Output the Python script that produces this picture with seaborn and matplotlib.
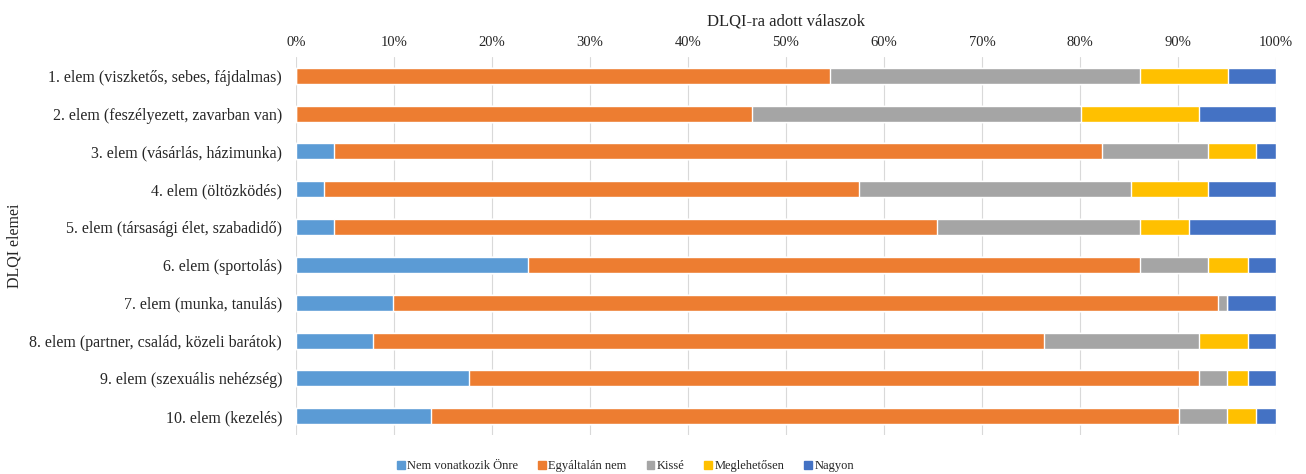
import numpy as np
import pandas as pd
import matplotlib
matplotlib.use('Agg')
import matplotlib.pyplot as plt
import matplotlib.patches as mpatches
import seaborn as sns

# Adatok (százalék)
elemek = ['1. elem (viszketős, sebes, fájdalmas)',
          '2. elem (feszélyezett, zavarban van)',
          '3. elem (vásárlás, házimunka)',
          '4. elem (öltözködés)',
          '5. elem (társasági élet, szabadidő)',
          '6. elem (sportolás)',
          '7. elem (munka, tanulás)',
          '8. elem (partner, család, közeli barátok)',
          '9. elem (szexuális nehézség)',
          '10. elem (kezelés)']
valaszok = ['Nem vonatkozik Önre', 'Egyáltalán nem', 'Kissé', 'Meglehetősen', 'Nagyon']
nem_vonatkozik = [0.0, 0.0, 3.9, 2.9, 3.9, 23.7, 9.9, 7.9, 17.7, 13.8]
egyaltalan_nem = [54.5, 46.5, 78.3, 54.6, 61.5, 62.4, 84.2, 68.4, 74.4, 76.3]
kisse = [31.6, 33.6, 10.9, 27.7, 20.7, 7.0, 0.9, 15.8, 2.9, 4.9]
meglehetosen = [9.0, 12.0, 4.9, 7.9, 5.0, 4.0, 0.0, 5.0, 2.1, 3.0]
nagyon = [4.9, 7.9, 2.0, 6.9, 8.9, 2.9, 5.0, 2.9, 2.9, 2.0]
szinek = ['#5B9BD5', '#ED7D31', '#A5A5A5', '#FFC000', '#4472C4']

df = pd.DataFrame({'elem': elemek,
                   valaszok[0]: nem_vonatkozik,
                   valaszok[1]: egyaltalan_nem,
                   valaszok[2]: kisse,
                   valaszok[3]: meglehetosen,
                   valaszok[4]: nagyon})
kumulalt = df[valaszok].cumsum(axis=1)

sns.set_style('white')
plt.rcParams['font.family'] = ['Liberation Serif', 'DejaVu Serif']

fig, ax = plt.subplots(figsize=(13.06, 4.74), dpi=100)
fig.subplots_adjust(left=0.2266, right=0.977, top=0.88, bottom=0.082)

# halmozott oszlopok: a legnagyobb kumulált értéktől visszafelé rajzolva
for i in range(len(valaszok) - 1, -1, -1):
    sns.barplot(x=kumulalt[valaszok[i]], y=df['elem'], color=szinek[i],
                orient='h', width=0.42, saturation=1, ax=ax, zorder=2)

ax.set_xlim(0, 100)
ax.set_xticks(np.arange(0, 101, 10))
ax.set_xticklabels([f'{v}%' for v in range(0, 101, 10)])
ax.xaxis.tick_top()
ax.xaxis.set_label_position('top')
ax.set_xlabel('DLQI-ra adott válaszok', fontsize=12, labelpad=7)
ax.set_ylabel('DLQI elemei', fontsize=11.5, labelpad=5)
ax.tick_params(axis='x', length=0, labelsize=10.5, pad=6)
ax.tick_params(axis='y', length=0, labelsize=11.5, pad=10)
ax.grid(axis='x', color='#D9D9D9', linewidth=0.8, zorder=0)
for s in ax.spines.values():
    s.set_visible(False)

kezelok = [mpatches.Patch(color=c, label=l) for c, l in zip(szinek, valaszok)]
fig.legend(handles=kezelok, loc='lower center', bbox_to_anchor=(0.479, -0.02),
           ncol=5, frameon=False, fontsize=9, handlelength=0.6, handleheight=0.6,
           handletextpad=0.2, columnspacing=1.6)

plt.savefig('out.png', dpi=100)
